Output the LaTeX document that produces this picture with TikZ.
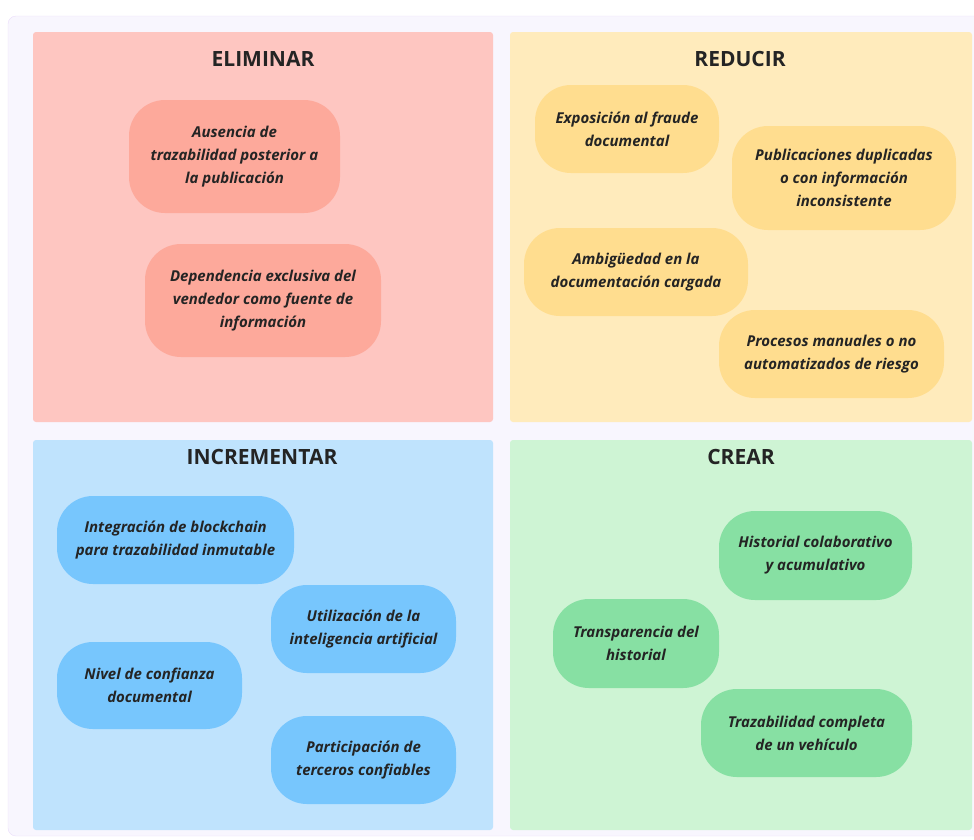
\documentclass[tikz,border=0pt]{standalone}
\usepackage{fontspec}
\setmainfont{Open Sans}
\usepackage{tikz}

\definecolor{framefill}{HTML}{F8F6FE}
\definecolor{framedraw}{HTML}{EADDFB}
\definecolor{txt}{HTML}{242424}
\definecolor{elimbg}{HTML}{FEC6C1}
\definecolor{elimcard}{HTML}{FDA99B}
\definecolor{redbg}{HTML}{FFEBBC}
\definecolor{redcard}{HTML}{FFDD8F}
\definecolor{incbg}{HTML}{BFE3FD}
\definecolor{inccard}{HTML}{77C6FD}
\definecolor{crebg}{HTML}{CEF4D4}
\definecolor{crecard}{HTML}{87E0A3}

\tikzset{
    quad/.style = {rounded corners = 3pt},
    qtitle/.style = {text = txt, font = \fontsize{21}{25}\selectfont\bfseries},
    card/.style = {rounded corners = 36pt, align = center, text = txt,
        inner sep = 0pt, font = \fontsize{15}{23}\selectfont\bfseries\itshape}
}

\begin{document}
\begin{tikzpicture}[x = 1pt, y = -1pt]
    \useasboundingbox (0, 0) rectangle (974, 839);
    \draw [fill = framefill, draw = framedraw, rounded corners = 8pt] (8, 16) rectangle (1000, 836);

    \begin{scope}
        \fill [quad, fill = elimbg] (33, 32) rectangle (493, 422);
        \node [qtitle] (eliminar) at (263, 59) {ELIMINAR};
        \node [card, fill = elimcard, minimum width = 211pt, minimum height = 113pt] (ausencia) at (234.5, 156.5)
            {Ausencia de\\trazabilidad posterior a\\la publicación};
        \node [card, fill = elimcard, minimum width = 236pt, minimum height = 113pt] (dependencia) at (263, 300.5)
            {Dependencia exclusiva del\\vendedor como fuente de\\información};
    \end{scope}

    \begin{scope}
        \fill [quad, fill = redbg] (510, 32) rectangle (972, 422);
        \node [qtitle] (reducir) at (740, 59) {REDUCIR};
        \node [card, fill = redcard, minimum width = 184pt, minimum height = 88pt] (fraude) at (627, 129)
            {Exposición al fraude\\documental};
        \node [card, fill = redcard, minimum width = 224pt, minimum height = 104pt] (duplicadas) at (844, 178)
            {Publicaciones duplicadas\\o con información\\inconsistente};
        \node [card, fill = redcard, minimum width = 224pt, minimum height = 88pt] (ambiguedad) at (636, 272)
            {Ambigüedad en la\\documentación cargada};
        \node [card, fill = redcard, minimum width = 225pt, minimum height = 88pt] (manuales) at (831.5, 354)
            {Procesos manuales o no\\automatizados de riesgo};
    \end{scope}

    \begin{scope}
        \fill [quad, fill = incbg] (33, 440) rectangle (493, 830);
        \node [qtitle] (incrementar) at (262, 457) {INCREMENTAR};
        \node [card, fill = inccard, minimum width = 237pt, minimum height = 88pt] (blockchain) at (175.5, 540)
            {Integración de blockchain\\para trazabilidad inmutable};
        \node [card, fill = inccard, minimum width = 185pt, minimum height = 88pt] (ia) at (363.5, 629)
            {Utilización de la\\inteligencia artificial};
        \node [card, fill = inccard, minimum width = 185pt, minimum height = 87pt] (confianza) at (149.5, 685.5)
            {Nivel de confianza\\documental};
        \node [card, fill = inccard, minimum width = 185pt, minimum height = 88pt] (terceros) at (363.5, 760)
            {Participación de\\terceros confiables};
    \end{scope}

    \begin{scope}
        \fill [quad, fill = crebg] (510, 440) rectangle (972, 830);
        \node [qtitle] (crear) at (741, 457) {CREAR};
        \node [card, fill = crecard, minimum width = 193pt, minimum height = 89pt] (colaborativo) at (815.5, 555.5)
            {Historial colaborativo\\y acumulativo};
        \node [card, fill = crecard, minimum width = 166pt, minimum height = 89pt] (transparencia) at (636, 643.5)
            {Transparencia del\\historial};
        \node [card, fill = crecard, minimum width = 211pt, minimum height = 88pt] (vehiculo) at (806.5, 733)
            {Trazabilidad completa\\de un vehículo};
    \end{scope}

\end{tikzpicture}
\end{document}
